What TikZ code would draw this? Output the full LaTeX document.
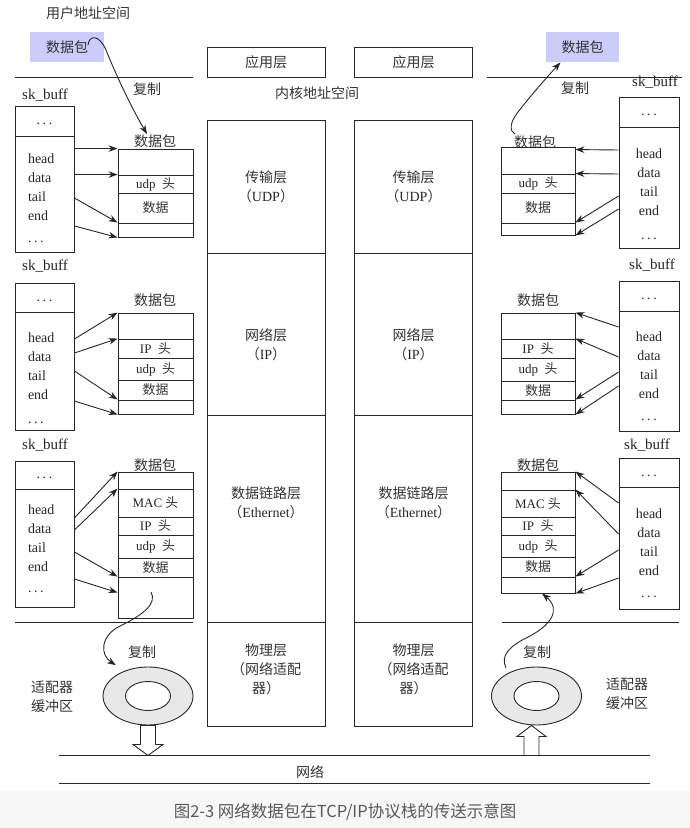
\documentclass[tikz,border=0pt]{standalone}
\usepackage{fontspec}
\setmainfont{Liberation Serif}
\newfontfamily\zhfont{Noto Sans CJK SC}
\newcommand{\zh}{\zhfont\color{black!80}}
\newcommand{\skdots}{.\hspace{2.6pt}.\hspace{2.6pt}.}
\usetikzlibrary{shapes.geometric, arrows.meta, positioning, calc}
\definecolor{pktblue}{RGB}{204,204,250}
\tikzstyle{txt} = [inner sep=0pt, font=\fontsize{14}{19}\selectfont]
\tikzstyle{cell} = [rectangle, draw, inner sep=0pt, minimum width=75pt, font=\fontsize{13}{15}\selectfont]
\tikzstyle{skbox} = [rectangle, draw, inner sep=0pt, minimum width=59pt, text height=10pt, text depth=3pt, font=\fontsize{14}{19}\selectfont]
\tikzstyle{layer} = [rectangle, draw, inner sep=0pt, minimum width=118pt, font=\fontsize{14}{19}\selectfont]
\tikzstyle{fieldl} = [txt, text width=40pt, align=left, text height=10pt, text depth=3pt]
\tikzstyle{fieldr} = [txt, text width=40pt, align=center, text height=10pt, text depth=3pt]
\tikzstyle{ring} = [ellipse, draw, fill=black!9, minimum width=90pt, minimum height=58pt]
\tikzstyle{hole} = [ellipse, draw, fill=white, minimum width=45pt, minimum height=29pt]
\tikzstyle{hollow} = [draw, fill=white]
\tikzstyle{line} = [draw, -{Stealth[length=9pt,width=6.5pt]}]

\begin{document}
\begin{tikzpicture}[x=1pt, y=-1pt, line width=0.9pt, color=black!85, node distance=19pt]
\useasboundingbox (0,0) rectangle (690,828);
\fill[black!3] (0,790) rectangle (690,828);

% address spaces
\node[txt] (us) at (88,13) {\zh 用户地址空间};
\node[txt] (ks) at (317,93) {\zh 内核地址空间};
\node[txt, fill=pktblue, minimum width=74pt, minimum height=30pt] (ubl) at (67,47) {\zh 数据包};
\node[txt, fill=pktblue, minimum width=73pt, minimum height=30pt] (ubr) at (582.5,47) {\zh 数据包};
\draw (15,77) -- (193,77);
\draw (487,77) -- (682,77);
\draw (15,622) -- (193,622);
\draw (502,622) -- (679,622);

% protocol stacks
\node[layer, minimum height=30pt] (sal) at (266,62) {\zh 应用层};
\node[layer, minimum height=133pt] (stl) at (266,186.5) {};
\node[layer, minimum height=162pt] (snl) at (266,334) {};
\node[layer, minimum height=207pt] (sdl) at (266,518.5) {};
\node[layer, minimum height=104pt] (spl) at (266,674) {};
\node[layer, minimum height=30pt] (sar) at (413.5,62) {\zh 应用层};
\node[layer, minimum height=133pt] (str) at (413.5,186.5) {};
\node[layer, minimum height=162pt] (snr) at (413.5,334) {};
\node[layer, minimum height=207pt] (sdr) at (413.5,518.5) {};
\node[layer, minimum height=104pt] (spr) at (413.5,674) {};

\node[txt, align=center] (stlt) at (stl) {{\zh 传输层}\\{\zh （}UDP{\zh ）}};
\node[txt, align=center, yshift=-11pt] (snlt) at (snl) {{\zh 网络层}\\{\zh （}IP{\zh ）}};
\node[txt, align=center, yshift=16pt] (sdlt) at (sdl) {{\zh 数据链路层}\\{\zh （}Ethernet{\zh ）}};
\node[txt, align=center, yshift=5pt] (splt) at (spl) {{\zh 物理层}\\{\zh （网络适配}\\{\zh 器）}};
\node[txt, align=center] (strt) at (str) {{\zh 传输层}\\{\zh （}UDP{\zh ）}};
\node[txt, align=center, yshift=-11pt] (snrt) at (snr) {{\zh 网络层}\\{\zh （}IP{\zh ）}};
\node[txt, align=center, yshift=16pt] (sdrt) at (sdr) {{\zh 数据链路层}\\{\zh （}Ethernet{\zh ）}};
\node[txt, align=center, yshift=5pt] (sprt) at (spr) {{\zh 物理层}\\{\zh （网络适配}\\{\zh 器）}};

% left sk_buff
\node[txt, font=\fontsize{15}{18}\selectfont] (sl1) at (45,95) {sk\_buff};
\node[skbox, minimum height=30pt] (lb1t) at (44.5,121) {\skdots};
\node[skbox, minimum height=116pt] (lb1b) at (44.5,194) {};
\node[fieldl] (l1h) at (48,160) {head};
\node[fieldl, below of=l1h] (l1d) {data};
\node[fieldl, below of=l1d] (l1t) {tail};
\node[fieldl, below of=l1t] (l1e) {end};
\node[fieldl, below of=l1e, yshift=-3pt] (l1x) {\skdots};

\node[txt, font=\fontsize{15}{18}\selectfont] (sl2) at (45,266) {sk\_buff};
\node[skbox, minimum height=29pt] (lb2t) at (44.5,297.5) {\skdots};
\node[skbox, minimum height=118pt] (lb2b) at (44.5,371) {};
\node[fieldl] (l2h) at (48,339) {head};
\node[fieldl, below of=l2h] (l2d) {data};
\node[fieldl, below of=l2d] (l2t) {tail};
\node[fieldl, below of=l2t] (l2e) {end};
\node[fieldl, below of=l2e, yshift=-5pt] (l2x) {\skdots};

\node[txt, font=\fontsize{15}{18}\selectfont] (sl3) at (45,445) {sk\_buff};
\node[skbox, minimum height=28pt] (lb3t) at (44.5,475) {\skdots};
\node[skbox, minimum height=118pt] (lb3b) at (44.5,548) {};
\node[fieldl] (l3h) at (48,511) {head};
\node[fieldl, below of=l3h] (l3d) {data};
\node[fieldl, below of=l3d] (l3t) {tail};
\node[fieldl, below of=l3t] (l3e) {end};
\node[fieldl, below of=l3e, yshift=-2pt] (l3x) {\skdots};

% left packets
\node[txt] (kl1) at (155,141) {\zh 数据包};
\node[cell, minimum height=26pt] (lp1a) at (155.5,162) {};
\node[cell, minimum height=18pt] (lp1b) at (155.5,184) {udp\ \ {\zh 头}};
\node[cell, minimum height=30pt] (lp1c) at (155.5,208) {\zh 数据};
\node[cell, minimum height=14pt] (lp1d) at (155.5,230) {};

\node[txt] (kl2) at (155,300) {\zh 数据包};
\node[cell, minimum height=26pt] (lp2a) at (155.5,326) {};
\node[cell, minimum height=19pt] (lp2b) at (155.5,348.5) {IP\ \ {\zh 头}};
\node[cell, minimum height=22pt] (lp2c) at (155.5,369) {udp\ \ {\zh 头}};
\node[cell, minimum height=20pt] (lp2d) at (155.5,390) {\zh 数据};
\node[cell, minimum height=14pt] (lp2e) at (155.5,407) {};

\node[txt] (kl3) at (155,465) {\zh 数据包};
\node[cell, minimum height=17pt] (lp3a) at (155.5,480.5) {};
\node[cell, minimum height=28pt] (lp3b) at (155.5,503) {MAC {\zh 头}};
\node[cell, minimum height=18pt] (lp3c) at (155.5,526) {IP\ \ {\zh 头}};
\node[cell, minimum height=23pt] (lp3d) at (155.5,546.5) {udp\ \ {\zh 头}};
\node[cell, minimum height=19pt] (lp3e) at (155.5,567.5) {\zh 数据};
\node[cell, minimum height=41pt] (lp3f) at (155.5,597.5) {};

\path[line] (lb1b.east |- lp1a.north west) -- (lp1a.north west);
\path[line] (lb1b.east |- lp1b.north west) -- (lp1b.north west);
\path[line] (lb1b.east |- l1t) -- (lp1d.north west);
\path[line] ($(lb1b.east |- l1e)+(0,9)$) -- (lp1d.south west);

\path[line] (lb2b.east |- l2h) -- (lp2a.north west);
\path[line] ($(lb2b.east |- l2d)+(0,-5)$) -- (lp2b.north west);
\path[line] ($(lb2b.east |- l2t)+(0,-6)$) -- (lp2e.north west);
\path[line] ($(lb2b.east |- l2e)+(0,5)$) -- (lp2e.south west);

\path[line] ($(lb3b.east |- l3h)+(0,7)$) -- (lp3a.north west);
\path[line] (lb3b.east |- l3d) -- (lp3b.north west);
\path[line] ($(lb3b.east |- l3t)+(0,3)$) -- (lp3f.north west);
\path[line] ($(lb3b.east |- l3e)+(0,11)$) -- ($(lp3f.north west)+(0,16)$);

% right sk_buff
\node[txt, font=\fontsize{15}{18}\selectfont] (sr1) at (655,82) {sk\_buff};
\node[skbox, minimum width=60pt, minimum height=30pt] (rb1t) at (649,112) {\skdots};
\node[skbox, minimum width=60pt, minimum height=121pt] (rb1b) at (649,187.5) {};
\node[fieldr] (r1h) at (649,155) {head};
\node[fieldr, below of=r1h] (r1d) {data};
\node[fieldr, below of=r1d] (r1t) {tail};
\node[fieldr, below of=r1t] (r1e) {end};
\node[fieldr, below of=r1e, yshift=-5pt] (r1x) {\skdots};

\node[txt, font=\fontsize{15}{18}\selectfont] (sr2) at (652,265) {sk\_buff};
\node[skbox, minimum width=60pt, minimum height=30pt] (rb2t) at (649,296) {\skdots};
\node[skbox, minimum width=60pt, minimum height=120pt] (rb2b) at (649,371) {};
\node[fieldr] (r2h) at (649,338) {head};
\node[fieldr, below of=r2h] (r2d) {data};
\node[fieldr, below of=r2d] (r2t) {tail};
\node[fieldr, below of=r2t] (r2e) {end};
\node[fieldr, below of=r2e, yshift=-3pt] (r2x) {\skdots};

\node[txt, font=\fontsize{15}{18}\selectfont] (sr3) at (647,445) {sk\_buff};
\node[skbox, minimum width=60pt, minimum height=29pt] (rb3t) at (649,472.5) {\skdots};
\node[skbox, minimum width=60pt, minimum height=122pt] (rb3b) at (649,548) {};
\node[fieldr] (r3h) at (649,515) {head};
\node[fieldr, below of=r3h] (r3d) {data};
\node[fieldr, below of=r3d] (r3t) {tail};
\node[fieldr, below of=r3t] (r3e) {end};
\node[fieldr, below of=r3e, yshift=-3pt] (r3x) {\skdots};

% right packets
\node[txt] (kr1) at (535,142) {\zh 数据包};
\node[cell, minimum width=74pt, minimum height=27pt] (rp1a) at (538,160.5) {};
\node[cell, minimum width=74pt, minimum height=19pt] (rp1b) at (538,183.5) {udp\ \ {\zh 头}};
\node[cell, minimum width=74pt, minimum height=30pt] (rp1c) at (538,208) {\zh 数据};
\node[cell, minimum width=74pt, minimum height=12pt] (rp1d) at (538,229) {};

\node[txt] (kr2) at (538,300) {\zh 数据包};
\node[cell, minimum width=74pt, minimum height=26pt] (rp2a) at (538,326) {};
\node[cell, minimum width=74pt, minimum height=19pt] (rp2b) at (538,348.5) {IP\ \ {\zh 头}};
\node[cell, minimum width=74pt, minimum height=23pt] (rp2c) at (538,369.5) {udp\ \ {\zh 头}};
\node[cell, minimum width=74pt, minimum height=19pt] (rp2d) at (538,390.5) {\zh 数据};
\node[cell, minimum width=74pt, minimum height=14pt] (rp2e) at (538,407) {};

\node[txt] (kr3) at (538,465) {\zh 数据包};
\node[cell, minimum width=74pt, minimum height=18pt] (rp3a) at (538,481) {};
\node[cell, minimum width=74pt, minimum height=27pt] (rp3b) at (538,503.5) {MAC {\zh 头}};
\node[cell, minimum width=74pt, minimum height=18pt] (rp3c) at (538,526) {IP\ \ {\zh 头}};
\node[cell, minimum width=74pt, minimum height=22pt] (rp3d) at (538,546) {udp\ \ {\zh 头}};
\node[cell, minimum width=74pt, minimum height=20pt] (rp3e) at (538,567) {\zh 数据};
\node[cell, minimum width=74pt, minimum height=16pt] (rp3f) at (538,585) {};

\path[line] ($(rb1b.west |- r1h)+(0,-5)$) -- ($(rp1a.north east)+(0,3)$);
\path[line] (rb1b.west |- r1d) -- (rp1b.north east);
\path[line] ($(rb1b.west |- r1t)+(0,3)$) -- (rp1d.north east);
\path[line] ($(rb1b.west |- r1e)+(0,-3)$) -- (rp1d.south east);

\path[line] ($(rb2b.west |- r2h)+(0,-11)$) -- (rp2a.north east);
\path[line] (rb2b.west |- r2d) -- (rp2b.north east);
\path[line] ($(rb2b.west |- r2t)+(0,-4)$) -- (rp2e.north east);
\path[line] ($(rb2b.west |- r2e)+(0,-9)$) -- (rp2e.south east);

\path[line] ($(rb3b.west |- r3h)+(0,-12)$) -- (rp3a.north east);
\path[line] (rb3b.west |- r3d) -- (rp3b.north east);
\path[line] ($(rb3b.west |- r3t)+(0,-3)$) -- (rp3f.north east);
\path[line] ($(rb3b.west |- r3e)+(0,6)$) -- (rp3f.south east);

% adapter buffers
\node[ring] (rgl) at (148,696) {};
\node[hole] (hol) at (rgl) {};
\node[ring] (rgr) at (536.5,696) {};
\node[hole] (hor) at (rgr) {};
\node[txt, align=center] (adl) at (52,697) {\zh 适配器\\\zh 缓冲区};
\node[txt, align=center] (adr) at (627,694) {\zh 适配器\\\zh 缓冲区};

% copies
\node[txt] (cpl1) at (147,89) {\zh 复制};
\node[txt] (cpr1) at (575,88) {\zh 复制};
\node[txt] (cpl2) at (142,652) {\zh 复制};
\node[txt] (cpr2) at (537,652) {\zh 复制};
\coordinate (c1) at (88,45);
\coordinate (c2) at (515,134);
\coordinate (c3) at (151,592);
\coordinate (c4) at (506,668);
\path[line] (c1) .. controls (89,35) and (99,34) .. (106,50) .. controls (118,80) and (134,112) .. ([xshift=-8pt]kl1.north);
\path[line] (c2) .. controls (509,131) and (510,122) .. (518,112) .. controls (532,94) and (548,76) .. ([xshift=-22pt]ubr.south);
\path[line] (c3) .. controls (157,603) and (145,614) .. (120,626) .. controls (100,636) and (100,655) .. ([yshift=10pt]rgl.north west);
\path[line] (c4) .. controls (500,655) and (510,646) .. (528,637) .. controls (550,626) and (562,610) .. ([xshift=4pt]rp3f.south);

% network
\draw[hollow] ($(rgl.south)+(-7.5,0)$) -- ++(15,0) -- ++(0,19) -- ++(7.5,0) -- ++(-15,11) -- ++(-15,-11) -- ++(7.5,0) -- cycle;
\draw[hollow] ($(rgr.south)+(-5,0)$) -- ++(14.5,11) -- ++(-7,0) -- ++(0,19) -- ++(-15,0) -- ++(0,-19) -- ++(-7,0) -- cycle;
\draw (59,755) -- (650,755);
\draw (59,783) -- (650,783);
\node[txt] (net) at (310,772) {\zh 网络};

\node[font=\zhfont\fontsize{16.5}{18}\selectfont, text=black!65] (cap) at (345,812) {图2-3 网络数据包在TCP/IP协议栈的传送示意图};
\end{tikzpicture}
\end{document}
